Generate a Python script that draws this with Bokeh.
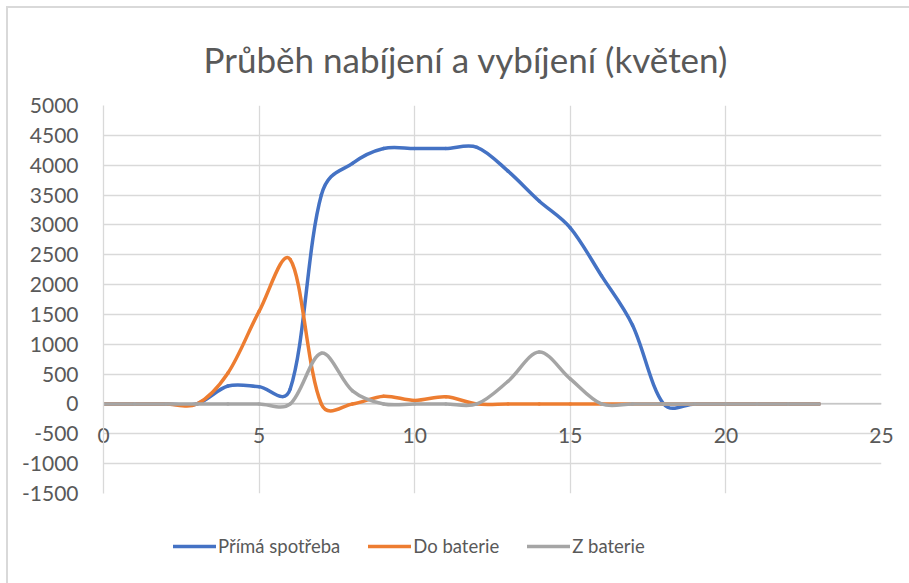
import numpy as np
from bokeh.plotting import figure
from bokeh.layouts import column
from bokeh.models import Legend, LegendItem, FixedTicker, Range1d, Span
from bokeh.embed import file_html
from bokeh.resources import INLINE

# ---- data ----
hours = list(range(24))
prima_spotreba = [0, 0, 0, 0, 300, 290, 250, 3500, 4030, 4280, 4280, 4280, 4300, 3900,
                  3400, 2950, 2150, 1320, 0, 0, 0, 0, 0, 0]
do_baterie = [0, 0, 0, 0, 520, 1550, 2420, 0, 0, 130, 60, 120, 0, 0,
              0, 0, 0, 0, 0, 0, 0, 0, 0, 0]
z_baterie = [0, 0, 0, 0, 0, 0, 0, 850, 220, 0, 0, 0, 0, 380,
             870, 420, 0, 0, 0, 0, 0, 0, 0, 0]
series_names = ["Přímá spotřeba", "Do baterie", "Z baterie"]
series_colors = ["#4472C4", "#ED7D31", "#A5A5A5"]
x_ticks = [0, 5, 10, 15, 20, 25]
y_ticks = list(range(-1500, 5001, 500))
title_text = "Průběh nabíjení a vybíjení (květen)"

FONT = "Lato"
TXT = "#595959"
GRID = "#d9d9d9"

X_LO, X_HI, Y_LO, Y_HI = 0, 25, -1500, 5000
PX_X = 778.0 / (X_HI - X_LO)   # approx pixels per unit (for smoothing weights)
PX_Y = 388.0 / (Y_HI - Y_LO)


def smooth_segments(xs, ys):
    """Bezier segments of a smoothed line (centripetal-weighted Catmull-Rom)."""
    x = np.asarray(xs, dtype=float)
    y = np.asarray(ys, dtype=float)
    xp = np.concatenate([[x[0]], x, [x[-1]]])
    yp = np.concatenate([[y[0]], y, [y[-1]]])
    d = np.sqrt(np.hypot(np.diff(xp) * PX_X, np.diff(yp) * PX_Y))
    n = len(x)
    i = np.arange(n - 1) + 1
    x0, y0 = xp[i], yp[i]
    x1, y1 = xp[i + 1], yp[i + 1]
    d01, d12, d23 = d[i - 1], d[i], d[i + 1]
    f0 = np.where(d01 + d12 > 0, 2 * d12 / np.maximum(d01 + d12, 1e-9), 1.0) / 6.0
    f1 = np.where(d12 + d23 > 0, 2 * d12 / np.maximum(d12 + d23, 1e-9), 1.0) / 6.0
    cx0 = x0 + (xp[i + 1] - xp[i - 1]) * f0
    cy0 = y0 + (yp[i + 1] - yp[i - 1]) * f0
    cx1 = x1 - (xp[i + 2] - xp[i]) * f1
    cy1 = y1 - (yp[i + 2] - yp[i]) * f1
    return dict(x0=x0, y0=y0, x1=x1, y1=y1, cx0=cx0, cy0=cy0, cx1=cx1, cy1=cy1)


p = figure(width=901, height=497, output_backend="svg", toolbar_location=None,
           x_range=Range1d(X_LO, X_HI), y_range=Range1d(Y_LO, Y_HI),
           min_border_left=95, min_border_right=28, min_border_top=97, min_border_bottom=12)

p.title.text = title_text
p.title.text_font = FONT
p.title.text_font_size = "35px"
p.title.text_font_style = "normal"
p.title.text_color = TXT
p.title.align = "left"
p.title.offset = 100
p.title.standoff = 52

p.outline_line_color = None
p.border_fill_color = "white"

# x axis: Excel-like labels just under the y = 0 line (axis sits at y = 0)
p.xaxis.ticker = FixedTicker(ticks=x_ticks)
p.xaxis.axis_line_color = None
p.xaxis.major_label_standoff = -72
p.yaxis.ticker = FixedTicker(ticks=y_ticks)
p.yaxis.major_label_overrides = {t: str(t) for t in y_ticks}
for ax in (p.xaxis, p.yaxis):
    ax.major_tick_line_color = None
    ax.minor_tick_line_color = None
    ax.major_label_text_font = FONT
    ax.major_label_text_font_size = "21px"
    ax.major_label_text_color = TXT
p.yaxis.axis_line_color = GRID
p.yaxis.axis_line_width = 1.3
p.yaxis.major_label_standoff = 19

p.grid.grid_line_color = GRID
p.grid.grid_line_width = 1.3
p.add_layout(Span(location=0, dimension="width", line_color="#bfbfbf",
                  line_width=1.3, level="underlay"))

renderers = []
for vals, color in zip([prima_spotreba, do_baterie, z_baterie], series_colors):
    seg = smooth_segments(hours, vals)
    r = p.bezier(x0=seg["x0"], y0=seg["y0"], x1=seg["x1"], y1=seg["y1"],
                 cx0=seg["cx0"], cy0=seg["cy0"], cx1=seg["cx1"], cy1=seg["cy1"],
                 line_color=color, line_width=3.5, line_cap="round")
    renderers.append(r)

# ---- legend strip below the chart ----
lg = figure(width=901, height=78, output_backend="svg", toolbar_location=None,
            x_range=Range1d(0, 1), y_range=Range1d(0, 1),
            x_axis_type=None, y_axis_type=None, min_border=0)
lg.outline_line_color = None
lg.grid.visible = False
lg_renderers = [lg.line(x=[np.nan, np.nan], y=[np.nan, np.nan], line_color=c,
                        line_width=3.5, line_cap="round")
                for c in series_colors]
legend = Legend(items=[LegendItem(label=n, renderers=[r]) for n, r in zip(series_names, lg_renderers)],
                orientation="horizontal", location=(70, 26))
legend.label_text_font = FONT
legend.label_text_font_size = "18.5px"
legend.label_text_color = TXT
legend.glyph_width = 43
legend.glyph_height = 20
legend.label_standoff = 2
legend.spacing = 28
legend.padding = 0
legend.margin = 0
legend.border_line_color = None
legend.background_fill_alpha = 0
lg.add_layout(legend, "center")

page = column(p, lg, spacing=0,
              styles={"margin-left": "6px", "margin-top": "6px",
                      "border-left": "2px solid #d9d9d9", "border-top": "2px solid #d9d9d9"})

open("out.html", "w").write(file_html(page, INLINE))
